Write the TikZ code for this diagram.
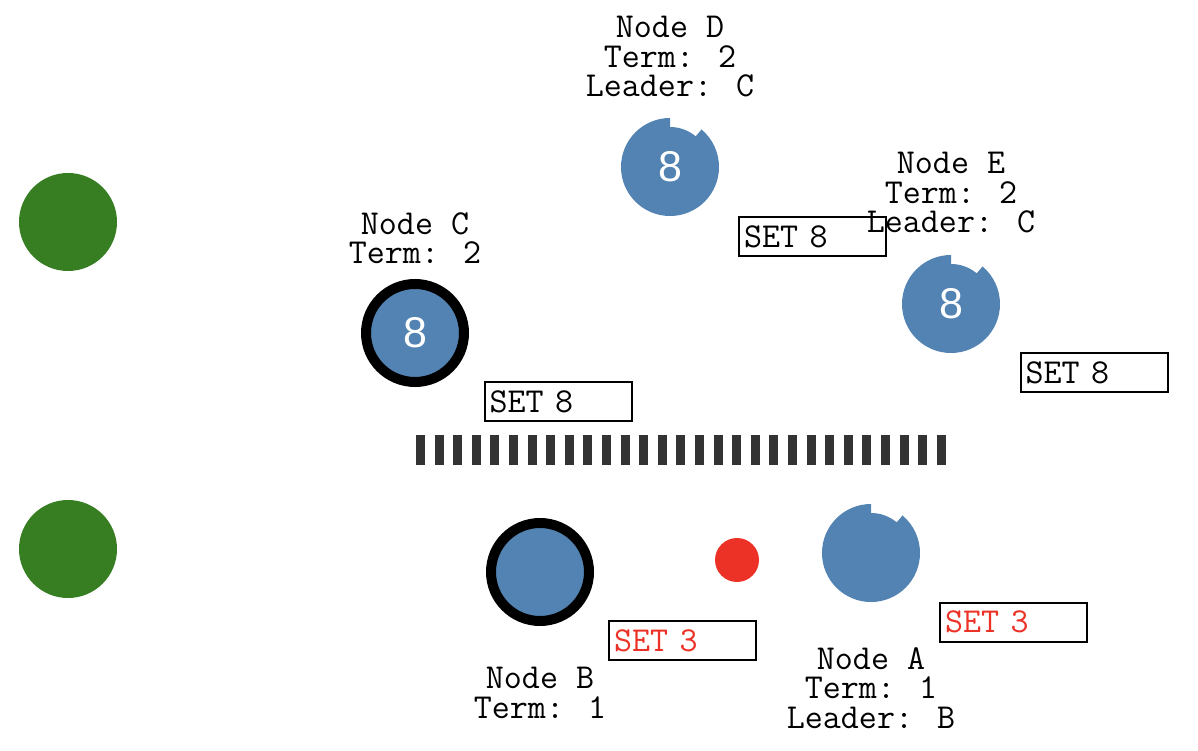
\documentclass[tikz,border=0pt]{standalone}
\usepackage{fontspec}
\newfontfamily\numfont{Liberation Sans}
\usetikzlibrary{positioning}

\definecolor{raftblue}{RGB}{82,131,179}
\definecolor{clientgreen}{RGB}{55,126,34}
\definecolor{msgred}{RGB}{236,50,38}
\definecolor{partition}{RGB}{51,51,51}

\begin{document}
\begin{tikzpicture}[
  x=1pt, y=1pt,
  client/.style={
    circle,
    fill=clientgreen,
    minimum size=98pt,
    inner sep=0pt
  },
  leader/.style={
    circle,
    fill=raftblue,
    draw=black,
    line width=10pt,
    minimum size=98pt,
    inner sep=0pt
  },
  val/.style={
    text=white,
    font=\numfont\fontsize{43}{43}\selectfont,
    inner sep=0pt
  },
  info/.style={
    align=center,
    font=\ttfamily\fontsize{35}{29.5}\selectfont,
    inner sep=0pt
  },
  msg/.style={
    draw=black,
    line width=2pt,
    text width=137pt,
    align=left,
    inner sep=5pt,
    minimum height=39pt,
    font=\ttfamily\fontsize{35}{35}\selectfont
  },
  barrier/.style={
    draw=partition,
    line width=30pt,
    dash pattern=on 9pt off 9.6pt
  }
]
\useasboundingbox (0,0) rectangle (1198,750);

% Clients
\node[client] (cl1) at (68,528) {};
\node[client] (cl2) at (68,201) {};

% Noeuds leaders
\node[leader] (C) at (415,417) {};
\node[val] (Cval) at (C) {8};
\node[info] (Clab) at (415,512) {Node C\\Term: 2};

\node[leader] (B) at (540,178) {};
\node[info] (Blab) at (540,57) {Node B\\Term: 1};

% Noeuds suiveurs
\coordinate (D) at (670,583);
\fill[raftblue] (D) ++(90:49) arc[start angle=90, end angle=410, radius=49]
  -- ++(230:9) arc[start angle=50, end angle=90, radius=40] -- cycle;
\node[val] (Dval) at (D) {8};
\node[info] (Dlab) at (670,693) {Node D\\Term: 2\\Leader: C};

\coordinate (E) at (951,446);
\fill[raftblue] (E) ++(90:49) arc[start angle=90, end angle=410, radius=49]
  -- ++(230:9) arc[start angle=50, end angle=90, radius=40] -- cycle;
\node[val] (Eval) at (E) {8};
\node[info] (Elab) at (951,557) {Node E\\Term: 2\\Leader: C};

\coordinate (A) at (871,197);
\fill[raftblue] (A) ++(90:49) arc[start angle=90, end angle=410, radius=49]
  -- ++(230:9) arc[start angle=50, end angle=90, radius=40] -- cycle;
\node[info] (Alab) at (871,62) {Node A\\Term: 1\\Leader: B};

% Message en transit
\node[circle, fill=msgred, minimum size=44pt, inner sep=0pt] (req) at (737,190) {};

% Partition du reseau
\draw[barrier] (416,300) -- (946,300);

% Messages
\node[msg] (m1) at (812.5,513.5) {SET 8};
\node[msg] (m2) at (1094,377.5) {SET 8};
\node[msg] (m3) at (558,348.5) {SET 8};
\node[msg, text=msgred] (m4) at (682.5,109.5) {SET 3};
\node[msg, text=msgred] (m5) at (1013.5,128) {SET 3};

\end{tikzpicture}
\end{document}
